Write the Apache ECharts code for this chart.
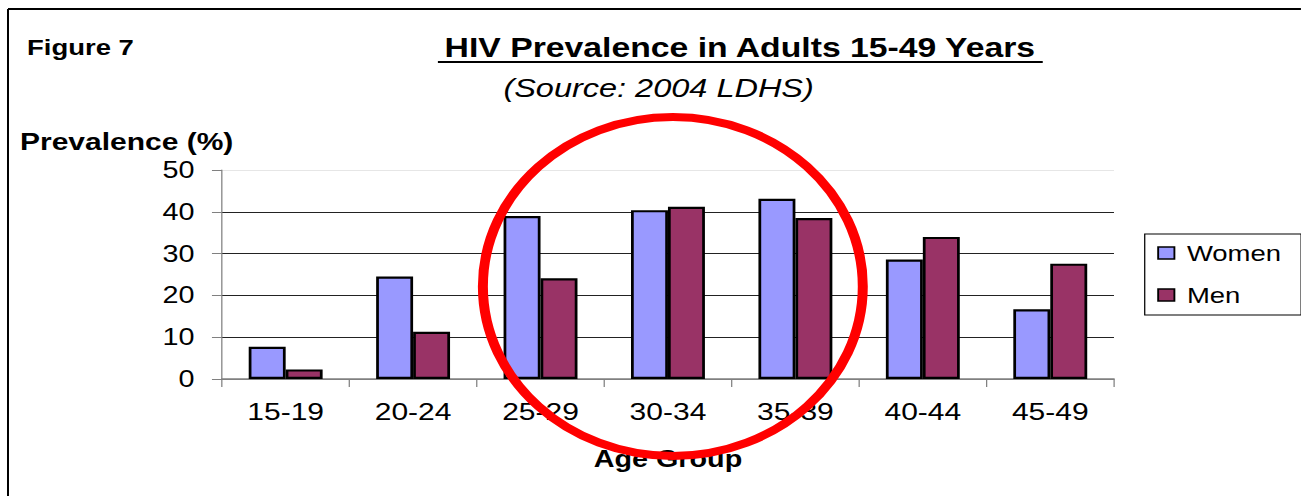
<!DOCTYPE html>
<html>
<head>
<meta charset="utf-8">
<title>HIV Prevalence in Adults 15-49 Years</title>
<script src="https://cdn.jsdelivr.net/npm/echarts@6/dist/echarts.min.js"></script>
<style>
  html, body { margin: 0; padding: 0; background: #fff; overflow: hidden; }
  /* the original picture is stretched sideways, so draw narrow and stretch */
  #chart {
    width: 1041px;
    height: 496px;
    transform: scaleX(1.2497);
    transform-origin: 0 0;
  }
</style>
</head>
<body>
<div id="chart"></div>
<script>
var ageGroups = ['15-19', '20-24', '25-29', '30-34', '35-39', '40-44', '45-49']
var women = [7.7, 24.5, 39.0, 40.4, 43.1, 28.6, 16.7]
var men = [2.3, 11.3, 24.1, 41.2, 38.5, 34.0, 27.6]

var font = "'Liberation Sans', Arial, sans-serif"
var myChart = echarts.init(document.getElementById('chart'), null, { renderer: 'svg' })

var option = {
  animation: false,
  textStyle: { fontFamily: font, color: '#000' },
  grid: { left: 177.6, right: 149.6, top: 170, bottom: 117 },
  legend: {
    orient: 'vertical',
    left: 916,
    top: 234,
    padding: [8, 16, 9, 10],
    borderColor: '#000',
    borderWidth: 1,
    itemWidth: 13,
    itemHeight: 12,
    itemGap: 20,
    icon: 'rect',
    textStyle: { fontFamily: font, fontSize: 22, lineHeight: 22, color: '#000', padding: [0, 0, 0, 5] },
    itemStyle: { borderColor: '#000', borderWidth: 1.5 },
    data: ['Women', 'Men']
  },
  xAxis: {
    type: 'category',
    data: ageGroups,
    axisLine: { lineStyle: { color: '#808080', width: 1.5 } },
    axisTick: { show: true, length: 8, lineStyle: { color: '#808080' } },
    axisLabel: { fontSize: 24, color: '#000', margin: 21, fontFamily: font },
    name: 'Age Group',
    nameLocation: 'middle',
    nameGap: 69,
    nameTextStyle: { fontSize: 23, fontWeight: 'bold', color: '#000', fontFamily: font }
  },
  yAxis: {
    type: 'value',
    min: 0,
    max: 50,
    interval: 10,
    axisLine: { show: true, lineStyle: { color: '#808080', width: 1 } },
    axisTick: { show: true, length: 8, lineStyle: { color: '#808080' } },
    axisLabel: { fontSize: 23, color: '#000', margin: 22, fontFamily: font },
    splitLine: {
      show: true,
      lineStyle: { color: ['#808080', '#222', '#222', '#222', '#222', '#e6e6e6'], width: 1 }
    }
  },
  series: [
    {
      name: 'Women',
      type: 'bar',
      barGap: 0,
      barCategoryGap: '42%',
      itemStyle: { color: '#9999ff', borderColor: '#000', borderWidth: 2.2 },
      data: women
    },
    {
      name: 'Men',
      type: 'bar',
      itemStyle: { color: '#993366', borderColor: '#000', borderWidth: 2.2 },
      data: men
    }
  ],
  graphic: [
    // frame lines on top and left
    { type: 'line', shape: { x1: 6.4, y1: 9, x2: 1041, y2: 9 }, style: { stroke: '#000', lineWidth: 2 } },
    { type: 'line', shape: { x1: 6.4, y1: 9, x2: 6.4, y2: 496 }, style: { stroke: '#000', lineWidth: 1.6 } },
    {
      type: 'text', x: 21.6, y: 47,
      style: { text: 'Figure 7', font: 'bold 22px ' + font, fill: '#000', textAlign: 'left', textVerticalAlign: 'middle' }
    },
    {
      type: 'text', x: 592, y: 47,
      style: { text: 'HIV Prevalence in Adults 15-49 Years', font: 'bold 27px ' + font, fill: '#000', textAlign: 'center', textVerticalAlign: 'middle' }
    },
    { type: 'line', shape: { x1: 350.4, y1: 62, x2: 834.4, y2: 62 }, style: { stroke: '#000', lineWidth: 2 } },
    {
      type: 'text', x: 527, y: 88,
      style: { text: '(Source: 2004 LDHS)', font: 'italic 26px ' + font, fill: '#000', textAlign: 'center', textVerticalAlign: 'middle' }
    },
    {
      type: 'text', x: 16, y: 142,
      style: { text: 'Prevalence (%)', font: 'bold 24px ' + font, fill: '#000', textAlign: 'left', textVerticalAlign: 'middle' }
    },
    // red highlight ring
    {
      type: 'ellipse', z: 100,
      shape: { cx: 538.4, cy: 286.5, rx: 152, ry: 169.5 },
      style: { fill: 'none', stroke: '#ff0000', lineWidth: 8 }
    }
  ]
}

option && myChart.setOption(option)
</script>
</body>
</html>
